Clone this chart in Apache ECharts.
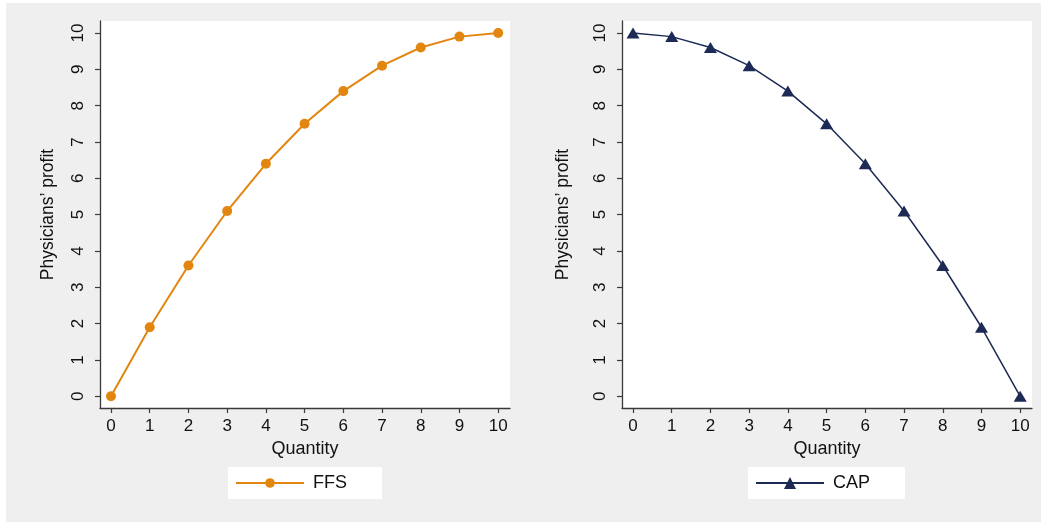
<!DOCTYPE html>
<html><head><meta charset="utf-8">
<script src="https://cdn.jsdelivr.net/npm/echarts@6/dist/echarts.min.js"></script>
<style>html,body{margin:0;padding:0;background:#fff}#c{width:1041px;height:522px}</style>
</head><body><div id="c"></div>
<script>
const quantity = [0,1,2,3,4,5,6,7,8,9,10];
const ffs = [0,1.9,3.6,5.1,6.4,7.5,8.4,9.1,9.6,9.9,10];
const cap = [10,9.9,9.6,9.1,8.4,7.5,6.4,5.1,3.6,1.9,0];
const tickVals = [0,1,2,3,4,5,6,7,8,9,10];
const xTitle = 'Quantity';
const yTitle = 'Physicians\u2019 profit';

const FONT = 'Liberation Sans, Arial, Helvetica, sans-serif';
const TXT = '#111';
const AX = '#3a3a3a';

function xAx(idx, gap){
  return {type:'value', gridIndex:idx, min:-0.284, max:10.305,
    name:xTitle, nameLocation:'middle', nameGap:gap,
    nameTextStyle:{fontFamily:FONT,fontSize:18,color:TXT},
    axisLine:{show:true,onZero:false,lineStyle:{color:AX,width:1.3}},
    axisTick:{show:true,customValues:tickVals,length:5,lineStyle:{color:AX,width:1.2}},
    axisLabel:{customValues:tickVals,fontFamily:FONT,fontSize:17,color:TXT,margin:10,showMinLabel:true,showMaxLabel:true},
    splitLine:{show:false}};
}
function yAx(idx, gap){
  return {type:'value', gridIndex:idx, min:-0.322, max:10.33,
    name:yTitle, nameLocation:'middle', nameGap:gap,
    nameTextStyle:{fontFamily:FONT,fontSize:17.5,color:TXT},
    axisLine:{show:true,onZero:false,lineStyle:{color:AX,width:1.3}},
    axisTick:{show:true,customValues:tickVals,length:5,lineStyle:{color:AX,width:1.2}},
    axisLabel:{customValues:tickVals,rotate:90,fontFamily:FONT,fontSize:17,color:TXT,margin:13,showMinLabel:true,showMaxLabel:true},
    splitLine:{show:false}};
}

const chart = echarts.init(document.getElementById('c'), null, {renderer:'canvas'});
chart.setOption({
  animation:false,
  backgroundColor:'#ffffff',
  graphic:[{type:'rect',z:-10,silent:true,shape:{x:6,y:3,width:1035,height:519},style:{fill:'#efefef'}}],
  grid:[
    {left:100,top:21,width:410,height:387,show:true,backgroundColor:'#fff',borderWidth:0},
    {left:622,top:21,width:410,height:387,show:true,backgroundColor:'#fff',borderWidth:0}
  ],
  xAxis:[xAx(0,29), xAx(1,32)],
  yAxis:[yAx(0,43), yAx(1,50)],
  legend:[
    {data:['FFS'],left:228,top:467,itemWidth:68,itemHeight:12,itemGap:0,
     padding:[7,35,7,7],backgroundColor:'#fff',borderWidth:0,
     textStyle:{fontFamily:FONT,fontSize:18,color:TXT,padding:[0,0,0,4]}},
    {data:['CAP'],left:748,top:467,itemWidth:68,itemHeight:15,itemGap:0,
     padding:[7,35,7,7],backgroundColor:'#fff',borderWidth:0,
     textStyle:{fontFamily:FONT,fontSize:18,color:TXT,padding:[0,0,0,4]}}
  ],
  series:[
    {name:'FFS',type:'line',xAxisIndex:0,yAxisIndex:0,
     data:quantity.map((q,i)=>[q,ffs[i]]),
     symbol:'circle',symbolSize:10,showAllSymbol:true,
     lineStyle:{color:'#e3860f',width:2},itemStyle:{color:'#e3860f'}},
    {name:'CAP',type:'line',xAxisIndex:1,yAxisIndex:1,
     data:quantity.map((q,i)=>[q,cap[i]]),
     symbol:'triangle',symbolSize:[13,11],showAllSymbol:true,
     lineStyle:{color:'#1c2a55',width:1.5},itemStyle:{color:'#1c2a55'}}
  ]
});
</script></body></html>
